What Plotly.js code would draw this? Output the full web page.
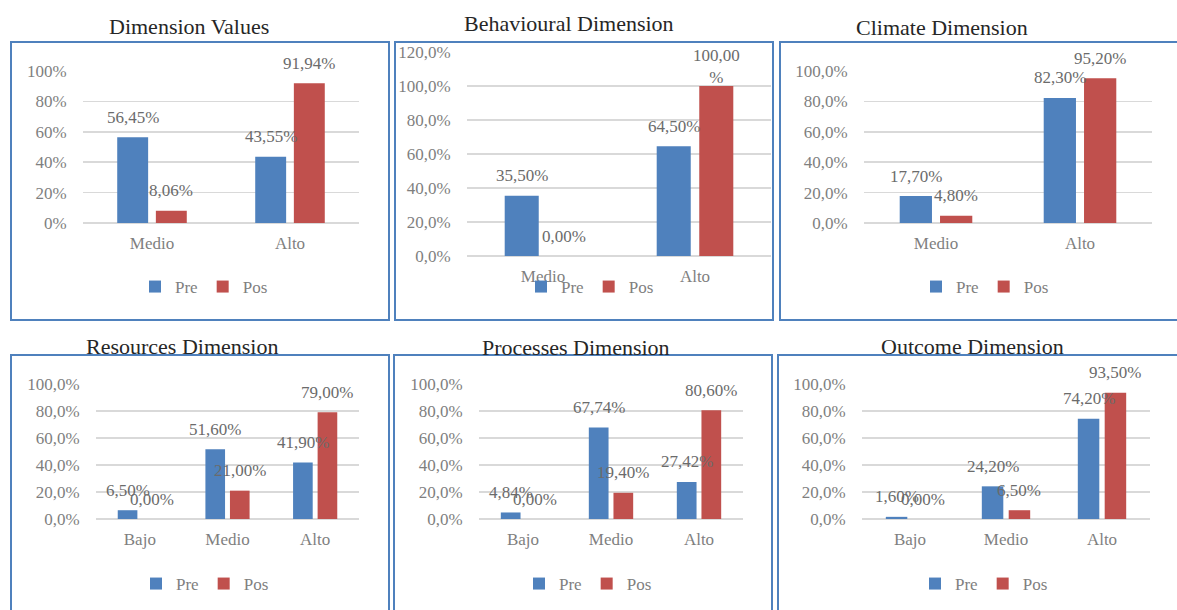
<!DOCTYPE html>
<html>
<head>
<meta charset="utf-8">
<script src="https://cdn.plot.ly/plotly-3.0.1.min.js"></script>
<style>
  html, body { margin: 0; padding: 0; background: #ffffff; }
  #chart { width: 1177px; height: 610px; }
</style>
</head>
<body>
<div id="chart"></div>
<script>
// ---------------- DATA ----------------
const seriesNames = ['Pre', 'Pos'];
const catsTwo = ['Medio', 'Alto'];
const catsThree = ['Bajo', 'Medio', 'Alto'];

const titles = ['Dimension Values', 'Behavioural Dimension', 'Climate Dimension',
                'Resources Dimension', 'Processes Dimension', 'Outcome Dimension'];

const dimensionPre = [56.45, 43.55];
const dimensionPos = [8.06, 91.94];

const behaviouralPre = [35.50, 64.50];
const behaviouralPos = [0.00, 100.00];

const climatePre = [17.70, 82.30];
const climatePos = [4.80, 95.20];

const resourcesPre = [6.50, 51.60, 41.90];
const resourcesPos = [0.00, 21.00, 79.00];

const processesPre = [4.84, 67.74, 27.42];
const processesPos = [0.00, 19.40, 80.60];

const outcomePre = [1.60, 24.20, 74.20];
const outcomePos = [0.00, 6.50, 93.50];

const yMaxima = [100, 120, 100, 100, 100, 100];
const yTickFormats = ['.0f', '.1f', '.1f', '.1f', '.1f', '.1f'];

// ---------------- LAYOUT CONFIG ----------------
const W = 1177, H = 610;
const FONT = 'Liberation Serif, Times New Roman, serif';
const BLUE = '#4f81bd', RED = '#c0504d';
const BARGAP = 0.44;

const panels = [
  { cats: catsTwo,   pre: dimensionPre,   pos: dimensionPos,   plot: [83, 359, 71, 223],  box: [11, 389, 42, 320],   t: [189, 26],  lg: [204, 287] },
  { cats: catsTwo,   pre: behaviouralPre, pos: behaviouralPos, plot: [467, 771, 52, 256], box: [395, 773, 42, 320],  t: [569, 24],  lg: [590, 287], wrap: true },
  { cats: catsTwo,   pre: climatePre,     pos: climatePos,     plot: [864, 1152, 71, 223],box: [780, 1185, 42, 320], t: [942, 27],  lg: [985, 287] },
  { cats: catsThree, pre: resourcesPre,   pos: resourcesPos,   plot: [96, 359, 384, 519], box: [11, 389, 355, 620],  t: [182, 346], lg: [205, 584] },
  { cats: catsThree, pre: processesPre,   pos: processesPos,   plot: [479, 743, 384, 519],box: [394, 772, 355, 620], t: [576, 347], lg: [588, 584] },
  { cats: catsThree, pre: outcomePre,     pos: outcomePos,     plot: [862, 1150, 384, 519],box: [778, 1185, 355, 620],t: [972, 346], lg: [984, 584] }
];

function fmt(v, wrap) {
  let s = v.toFixed(2).replace('.', ',');
  if (wrap && s.length > 5) return s + '<br>%';
  return s + '%';
}

const traces = [];
const layout = {
  width: W, height: H,
  margin: { l: 0, r: 0, t: 0, b: 0 },
  paper_bgcolor: '#ffffff',
  plot_bgcolor: 'rgba(0,0,0,0)',
  barmode: 'group',
  bargap: BARGAP,
  bargroupgap: 0.2,
  separators: ',.',
  showlegend: true,
  hovermode: false,
  font: { family: FONT, size: 17, color: '#7f7f7f' },
  annotations: [],
  shapes: []
};

panels.forEach((p, k) => {
  const n = k + 1;
  const sfx = k === 0 ? '' : String(n);
  const xa = 'x' + sfx, ya = 'y' + sfx;
  const legendId = 'legend' + sfx;

  [p.pre, p.pos].forEach((vals, j) => {
    traces.push({
      type: 'bar',
      x: p.cats,
      y: vals,
      name: seriesNames[j],
      xaxis: xa, yaxis: ya,
      legend: legendId,
      marker: { color: j === 0 ? BLUE : RED },
      hoverinfo: 'none'
    });
    // data labels centred above each bar, position from grouped-bar geometry
    const slot = (1 - BARGAP) / 2;
    vals.forEach((v, i) => {
      layout.annotations.push({
        xref: xa, yref: ya,
        x: i - (1 - BARGAP) / 2 + slot * (j + 0.5),
        y: v,
        text: fmt(v, p.wrap),
        showarrow: false,
        xanchor: 'center', yanchor: 'middle',
        yshift: 20,
        font: { family: FONT, size: 17, color: '#6b6b6b' }
      });
    });
  });

  layout['xaxis' + sfx] = {
    domain: [p.plot[0] / W, p.plot[1] / W],
    anchor: ya,
    type: 'category',
    showgrid: false, showline: false, zeroline: false,
    ticks: 'outside', ticklen: 5, tickcolor: 'rgba(0,0,0,0)',
    tickfont: { family: FONT, size: 17, color: '#7f7f7f' },
    fixedrange: true
  };
  layout['yaxis' + sfx] = {
    domain: [1 - p.plot[3] / H, 1 - p.plot[2] / H],
    anchor: xa,
    range: [0, yMaxima[k]],
    tick0: 0, dtick: 20,
    tickformat: yTickFormats[k], ticksuffix: '%',
    showgrid: true, gridcolor: '#d9d9d9', gridwidth: 1.5,
    zeroline: true, zerolinecolor: '#d9d9d9', zerolinewidth: 1.5,
    showline: false,
    ticks: 'outside', ticklen: 12, tickcolor: 'rgba(0,0,0,0)',
    tickfont: { family: FONT, size: 17, color: '#7f7f7f' },
    fixedrange: true
  };
  layout[legendId] = {
    orientation: 'h',
    x: p.lg[0] / W, y: 1 - p.lg[1] / H,
    xanchor: 'center', yanchor: 'middle',
    bgcolor: 'rgba(0,0,0,0)',
    font: { family: FONT, size: 17, color: '#7f7f7f' },
    traceorder: 'normal'
  };
  layout.shapes.push({
    type: 'rect', xref: 'paper', yref: 'paper',
    x0: p.box[0] / W, x1: p.box[1] / W,
    y0: 1 - p.box[3] / H, y1: 1 - p.box[2] / H,
    line: { color: '#4f81bd', width: 2 },
    fillcolor: 'rgba(0,0,0,0)',
    layer: 'below'
  });
  layout.annotations.push({
    xref: 'paper', yref: 'paper',
    x: p.t[0] / W, y: 1 - p.t[1] / H,
    text: titles[k],
    showarrow: false,
    xanchor: 'center', yanchor: 'middle',
    font: { family: FONT, size: 22, color: '#262626' }
  });
});

Plotly.newPlot('chart', traces, layout, { staticPlot: true, displayModeBar: false });
</script>
</body>
</html>
